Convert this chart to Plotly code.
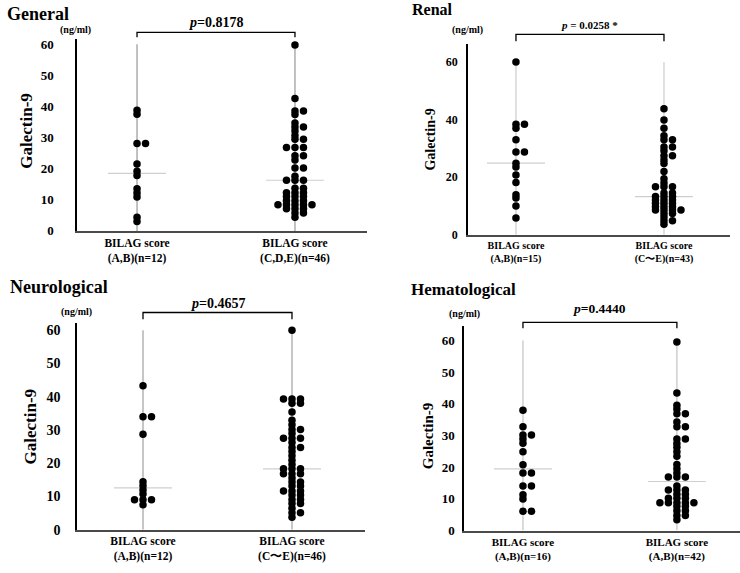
import numpy as np
import plotly.graph_objects as go
from collections import Counter

W, H = 740, 573

# ---------------- data ----------------
panel_titles = ["General", "Renal", "Neurological", "Hematological"]
p_texts = ["<i>p</i>=0.8178", "<i>p</i> = 0.0258 *", "<i>p</i>=0.4657", "<i>p</i>=0.4440"]
unit_label = "(ng/ml)"
y_title = "Galectin-9"

general_labels = ["BILAG score<br>(A,B)(n=12)", "BILAG score<br>(C,D,E)(n=46)"]
renal_labels = ["BILAG score<br>(A,B)(n=15)", "BILAG score<br>(C〜E)(n=43)"]
neuro_labels = ["BILAG score<br>(A,B)(n=12)", "BILAG score<br>(C〜E)(n=46)"]
hema_labels = ["BILAG score<br>(A,B)(n=16)", "BILAG score<br>(A,B)(n=42)"]

general_ab = [38.8, 37.5, 28.1, 28.1, 21.5, 19.2, 17.8, 13.6, 12.2, 10.9, 4.4, 3.0]
general_cde = [59.8, 42.6, 38.6, 38.6, 37.4, 34.7, 33.4, 33.4, 32.1, 30.7, 29.5, 29.5,
               26.8, 26.8, 26.8, 24.2, 24.2, 22.8, 20.2, 20.2, 17.6, 16.3, 16.3, 16.3,
               13.7, 13.7, 12.3, 12.3, 12.3, 11.1, 11.1, 11.1, 9.7, 9.7, 9.7,
               8.4, 8.4, 8.4, 8.4, 8.4, 7.1, 7.1, 7.1, 5.8, 5.8, 4.4]

renal_ab = [60.0, 38.4, 38.4, 37.0, 33.0, 28.8, 28.8, 24.9, 23.6, 20.8, 18.2, 13.9, 12.8, 10.0, 5.9]
renal_ce = [43.8, 39.9, 37.0, 34.4, 33.0, 33.0, 30.5, 30.5, 29.2, 27.5, 27.5, 26.0, 24.8,
            22.0, 19.5, 18.0, 16.7, 16.7, 16.7,
            14.5, 14.5, 13.3, 13.3, 13.3, 12.1, 12.1, 12.1, 11.0, 11.0, 11.0,
            9.8, 9.8, 9.8, 8.6, 8.6, 8.6, 8.6, 7.4, 7.4, 6.2, 4.9, 4.9, 3.7]

neuro_ab = [43.3, 34.0, 34.0, 28.7, 14.4, 13.2, 11.9, 10.7, 9.0, 9.0, 9.0, 7.5]
neuro_ce = [60.0, 39.3, 39.3, 39.3, 38.0, 38.0, 35.4, 32.9, 31.6, 30.1, 30.1, 28.9,
            27.5, 27.5, 27.5, 26.2, 24.7, 24.7, 23.5, 22.2, 20.9, 19.6,
            18.3, 18.3, 18.3, 16.8, 16.8, 16.8, 15.5, 14.3, 14.3, 13.1, 13.1,
            11.6, 11.6, 11.6, 10.4, 10.4, 9.1, 9.1, 7.9, 7.9, 6.4, 5.1, 5.1, 3.7]

hema_ab = [38.0, 32.8, 30.2, 30.2, 28.9, 27.6, 24.9, 20.8, 18.2, 18.2, 14.1, 14.1, 11.3, 10.0, 6.1, 6.1]
hema_ab2 = [59.5, 43.4, 39.6, 38.4, 36.9, 36.9, 34.3, 32.8, 32.8, 28.9, 28.9, 27.5, 26.3,
            24.9, 23.5, 20.9, 19.5, 18.2, 16.9, 16.9, 16.9,
            14.1, 12.8, 12.8, 12.8, 11.5, 11.5, 10.2, 10.2, 10.2,
            8.8, 8.8, 8.8, 8.8, 8.8, 7.6, 7.6, 6.3, 6.3, 4.8, 4.8, 3.4]

range_top = 60  # top of the vertical guide line at each group
yticks_10 = [0, 10, 20, 30, 40, 50, 60]
yticks_20 = [0, 20, 40, 60]

groups = [
    (general_ab, general_cde, general_labels, yticks_10),
    (renal_ab, renal_ce, renal_labels, yticks_20),
    (neuro_ab, neuro_ce, neuro_labels, yticks_10),
    (hema_ab, hema_ab2, hema_labels, yticks_10),
]

# ---------------- layout geometry (pixels) ----------------
geo = [
    dict(xpx=(77, 367), ypx=(38, 233), xr=(0.62, 2.456), yr=(0, 61.6), tick=13, standoff=19,
         xtick=11.5, title=(5, 12, 18), unit=(75, 29), ytitle=(27, 131, 17), p=(21, 14),
         br=(31, 36), vcol="#a0a0a0"),
    dict(xpx=(468, 730), ypx=(43, 237), xr=(0.676, 2.446), yr=(0, 66.2), tick=12, standoff=6,
         xtick=10, title=(410, 8, 16), unit=(467, 28), ytitle=(431, 140, 14), p=(23, 11),
         br=(33, 40), vcol="#d0d0d0"),
    dict(xpx=(77, 365), ypx=(327, 537), xr=(0.557, 2.49), yr=(0, 62.1), tick=14, standoff=12,
         xtick=11.5, title=(8, 290, 18), unit=(76, 315), ytitle=(30, 432, 17), p=(307, 14),
         br=(316, 323), vcol="#a8a8a8"),
    dict(xpx=(464, 740), ypx=(330, 538), xr=(0.617, 2.41), yr=(0, 64.5), tick=13, standoff=5,
         xtick=11, title=(409, 293, 17), unit=(464, 318), ytitle=(428, 442, 15), p=(312, 13.5),
         br=(326, 332), vcol="#c8c8c8"),
]

FONT = "Liberation Serif"
DOT_STEP_PX = 8.5
MED_HALF_PX = 29


def swarm_offsets(values, step):
    order = [0, 1, -1, 2, -2, 3, -3, 4, -4]
    seen = Counter()
    offs = []
    for v in values:
        offs.append(order[seen[v]] * step)
        seen[v] += 1
    return offs


fig = go.Figure()
layout = dict(width=W, height=H, margin=dict(l=0, r=0, t=0, b=0),
              paper_bgcolor="white", plot_bgcolor="white", showlegend=False)
annotations = []
shapes = []

for i, ((g1, g2, labels, yt), g) in enumerate(zip(groups, geo)):
    n = i + 1
    xa = "x" if n == 1 else f"x{n}"
    ya = "y" if n == 1 else f"y{n}"
    xkey = "xaxis" if n == 1 else f"xaxis{n}"
    ykey = "yaxis" if n == 1 else f"yaxis{n}"
    x0p, x1p = g["xpx"]
    y0p, y1p = g["ypx"]
    ppu_x = (x1p - x0p) / (g["xr"][1] - g["xr"][0])
    step = DOT_STEP_PX / ppu_x
    half = MED_HALF_PX / ppu_x

    layout[xkey] = dict(domain=[x0p / W, x1p / W], range=list(g["xr"]), anchor=ya,
                        showline=True, linecolor="#4a4a4a", linewidth=2,
                        showgrid=False, zeroline=False, ticks="",
                        tickvals=[1, 2], ticktext=labels,
                        tickfont=dict(family=FONT, size=g["xtick"], color="black", weight="bold"),
                        fixedrange=True)
    layout[ykey] = dict(domain=[1 - y1p / H, 1 - y0p / H], range=list(g["yr"]), anchor=xa,
                        showline=True, linecolor="black", linewidth=1.5,
                        showgrid=False, zeroline=False, ticks="",
                        tickvals=yt, ticklabelstandoff=g["standoff"],
                        tickfont=dict(family=FONT, size=g["tick"], color="black", weight="bold"),
                        fixedrange=True)

    for cx, vals in ((1, g1), (2, g2)):
        fig.add_trace(go.Scatter(x=[cx, cx], y=[0, range_top], mode="lines",
                                 line=dict(color=g["vcol"], width=1.3),
                                 xaxis=xa, yaxis=ya, hoverinfo="skip"))
        med = float(np.median(vals))
        fig.add_trace(go.Scatter(x=[cx - half, cx + half], y=[med, med], mode="lines",
                                 line=dict(color="#cfcfcf", width=1.2),
                                 xaxis=xa, yaxis=ya, hoverinfo="skip"))
        offs = swarm_offsets(vals, step)
        fig.add_trace(go.Scatter(x=[cx + o for o in offs], y=vals, mode="markers",
                                 marker=dict(color="black", size=7.5, symbol="circle",
                                             line=dict(width=0)),
                                 cliponaxis=False, xaxis=xa, yaxis=ya))

    bt, bb = g["br"]
    shapes.append(dict(type="path", xref=xa, yref="paper",
                       path=f"M 1,{1 - bb / H} L 1,{1 - bt / H} L 2,{1 - bt / H} L 2,{1 - bb / H}",
                       line=dict(color="black", width=1.3)))
    annotations.append(dict(x=1.5, xref=xa, y=1 - g["p"][0] / H, yref="paper",
                            text=p_texts[i], showarrow=False, xanchor="center", yanchor="middle",
                            font=dict(family=FONT, size=g["p"][1], color="black", weight="bold")))
    tx, ty, ts = g["title"]
    annotations.append(dict(x=tx / W, y=1 - ty / H, xref="paper", yref="paper",
                            text=panel_titles[i], showarrow=False, xanchor="left", yanchor="middle",
                            font=dict(family=FONT, size=ts, color="black", weight="bold")))
    ux, uy = g["unit"]
    annotations.append(dict(x=ux / W, y=1 - uy / H, xref="paper", yref="paper",
                            text=unit_label, showarrow=False, xanchor="center", yanchor="middle",
                            font=dict(family=FONT, size=10, color="black", weight="bold")))
    yx, yy, ys = g["ytitle"]
    annotations.append(dict(x=yx / W, y=1 - yy / H, xref="paper", yref="paper",
                            text=y_title, showarrow=False, textangle=-90,
                            xanchor="center", yanchor="middle",
                            font=dict(family=FONT, size=ys, color="black", weight="bold")))

layout["annotations"] = annotations
layout["shapes"] = shapes
fig.update_layout(**layout)
fig.write_html("out.html", config={"displayModeBar": False},
               post_script="document.body.style.margin='0px';document.body.style.overflow='hidden';")
